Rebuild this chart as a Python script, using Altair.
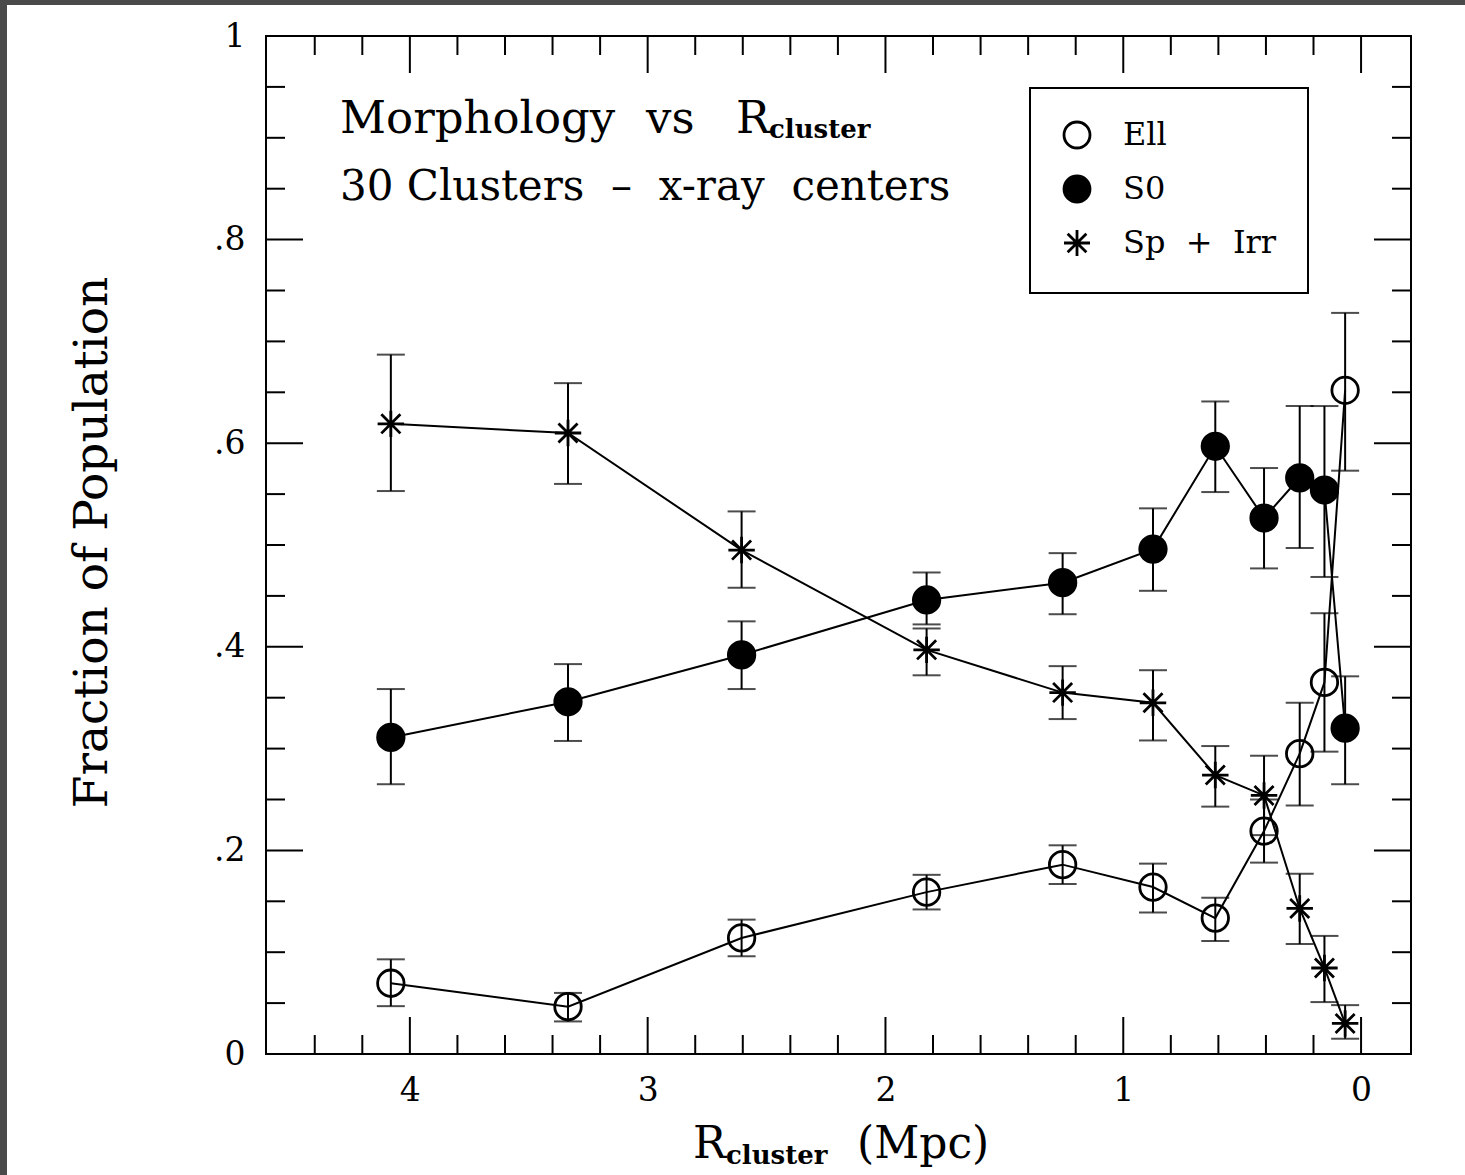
import altair as alt
import pandas as pd

SERIF = "DejaVu Serif"

# ---- data ----
R = [4.08, 3.335, 2.605, 1.827, 1.255, 0.875, 0.613, 0.408, 0.258, 0.154, 0.067]

ell = [0.0695, 0.0465, 0.114, 0.159, 0.186, 0.164, 0.1335, 0.219, 0.295, 0.365, 0.652]
ell_lo = [0.047, 0.032, 0.096, 0.142, 0.167, 0.139, 0.111, 0.188, 0.244, 0.297, 0.573]
ell_hi = [0.093, 0.060, 0.132, 0.176, 0.205, 0.187, 0.1535, 0.250, 0.345, 0.433, 0.728]

s0 = [0.311, 0.346, 0.392, 0.446, 0.463, 0.496, 0.597, 0.5265, 0.566, 0.554, 0.320]
s0_lo = [0.265, 0.3075, 0.3585, 0.422, 0.432, 0.455, 0.552, 0.477, 0.497, 0.4686, 0.265]
s0_hi = [0.3585, 0.383, 0.425, 0.473, 0.492, 0.536, 0.641, 0.5756, 0.6365, 0.6365, 0.371]

sp = [0.619, 0.610, 0.495, 0.397, 0.355, 0.345, 0.274, 0.254, 0.143, 0.0845, 0.030]
sp_lo = [0.553, 0.560, 0.458, 0.372, 0.329, 0.308, 0.243, 0.215, 0.108, 0.051, 0.015]
sp_hi = [0.687, 0.659, 0.533, 0.418, 0.381, 0.377, 0.3025, 0.293, 0.177, 0.116, 0.048]

series_names = ["Ell", "S0", "Sp + Irr"]

x_major = [0, 1, 2, 3, 4]
x_minor = [0.2, 0.4, 0.6, 0.8, 1.2, 1.4, 1.6, 1.8, 2.2, 2.4, 2.6, 2.8,
           3.2, 3.4, 3.6, 3.8, 4.2, 4.4]
y_major = [0, 0.2, 0.4, 0.6, 0.8, 1.0]
y_minor = [0.05, 0.1, 0.15, 0.25, 0.3, 0.35, 0.45, 0.5, 0.55,
           0.65, 0.7, 0.75, 0.85, 0.9, 0.95]

rows = []
for name, vals, los, his in [("Ell", ell, ell_lo, ell_hi),
                             ("S0", s0, s0_lo, s0_hi),
                             ("Sp + Irr", sp, sp_lo, sp_hi)]:
    for r, v, lo, hi in zip(R, vals, los, his):
        rows.append({"series": name, "r": r, "f": v, "lo": lo, "hi": hi})
df = pd.DataFrame(rows)

W, H = 1145, 1018
PAD_L, PAD_T, PAD_R, PAD_B = 266, 36, 54, 121
MAJ, MIN = 37, 19

xscale = alt.Scale(domain=[-0.21, 4.605], reverse=True, nice=False, zero=False)
yscale = alt.Scale(domain=[0, 1], nice=False, zero=False)

ASTERISK = "M-1,0L1,0M0,-1L0,1M-0.72,-0.72L0.72,0.72M-0.72,0.72L0.72,-0.72"

x_axis = alt.Axis(values=x_major, labelExpr="format(datum.value, 'd')",
                  ticks=False, tickSize=0, domain=False, grid=False,
                  labelFont=SERIF, labelFontSize=33, labelColor="black",
                  labelPadding=20, title=None)
y_axis = alt.Axis(values=y_major,
                  labelExpr="datum.value == 0 ? '0' : datum.value == 1 ? '1' : replace(format(datum.value, '.1f'), '0.', '.')",
                  ticks=False, tickSize=0, domain=False, grid=False,
                  labelFont=SERIF, labelFontSize=33, labelColor="black",
                  labelPadding=21, title="Fraction of Population",
                  titleFont=SERIF, titleFontSize=47, titleFontWeight="normal",
                  titleColor="black", titleAngle=270, titleX=-174, titleY=506,
                  titleAlign="center", titleBaseline="middle")

legend = alt.Legend(
    title=None, orient="none", legendX=764, legendY=52,
    padding=31, rowPadding=16, strokeColor="black",
    fillColor="white", labelFont=SERIF, labelFontSize=32,
    labelColor="black", labelOffset=30, symbolSize=676,
    symbolStrokeColor="black", symbolStrokeWidth=2.8,
    labelExpr="replace(datum.label, ' + ', '\u00a0\u00a0+\u00a0\u00a0')",
)

X = alt.X("r:Q", scale=xscale, axis=x_axis)

base = alt.Chart(df)

lines = base.mark_line(color="black", strokeWidth=2).encode(
    x=X,
    y=alt.Y("f:Q", scale=yscale, axis=y_axis),
    detail="series:N",
    order="r:Q",
)

err = base.mark_rule(color="black", strokeWidth=2).encode(
    x=X,
    y=alt.Y("lo:Q", scale=yscale, axis=y_axis),
    y2="hi:Q",
)
cap_lo = base.mark_tick(orient="horizontal", size=28, thickness=2, color="black").encode(
    x=X,
    y=alt.Y("lo:Q", scale=yscale, axis=y_axis),
)
cap_hi = base.mark_tick(orient="horizontal", size=28, thickness=2, color="black").encode(
    x=X,
    y=alt.Y("hi:Q", scale=yscale, axis=y_axis),
)

points = base.mark_point(size=700, strokeWidth=2.8,
                         opacity=1, fillOpacity=1, strokeOpacity=1).encode(
    x=X,
    y=alt.Y("f:Q", scale=yscale, axis=y_axis),
    shape=alt.Shape("series:N",
                    scale=alt.Scale(domain=series_names,
                                    range=["circle", "circle", ASTERISK]),
                    legend=legend),
    fill=alt.Fill("series:N",
                  scale=alt.Scale(domain=series_names,
                                  range=["transparent", "black", "black"]),
                  legend=legend),
    stroke=alt.Stroke("series:N",
                      scale=alt.Scale(domain=series_names,
                                      range=["black", "black", "black"]),
                      legend=legend),
)


def xticks(vals, length, top):
    d = pd.DataFrame({"r": vals})
    return alt.Chart(d).mark_rule(color="black", strokeWidth=2).encode(
        x=X,
        y=alt.value(0 if top else H - length),
        y2=alt.value(length if top else H),
    )


def yticks(vals, length, right):
    d = pd.DataFrame({"f": vals})
    return alt.Chart(d).mark_rule(color="black", strokeWidth=2).encode(
        y=alt.Y("f:Q", scale=yscale, axis=y_axis),
        x=alt.value(W - length if right else 0),
        x2=alt.value(W if right else length),
    )


ticks = [
    xticks(x_major, MAJ, False), xticks(x_minor, MIN, False),
    xticks(x_major, MAJ, True), xticks(x_minor, MIN, True),
    yticks(y_major, MAJ, False), yticks(y_minor, MIN, False),
    yticks(y_major, MAJ, True), yticks(y_minor, MIN, True),
]

one = pd.DataFrame({"a": [0]})


def label(text, x, y, size, weight="normal"):
    return alt.Chart(one).mark_text(
        align="left", baseline="alphabetic", font=SERIF, fontSize=size,
        fontWeight=weight, color="black"
    ).encode(x=alt.value(x), y=alt.value(y), text=alt.value(text))


texts = [
    label("Morphology", 74, 97, 45),
    label("vs", 380, 97, 45),
    label("R", 470, 97, 45),
    label("cluster", 503, 102, 26, "bold"),
    label("30 Clusters\u00a0\u00a0–\u00a0\u00a0x-ray\u00a0\u00a0centers", 74, 164, 42),
    label("R", 427, 1122, 44),
    label("cluster", 460, 1128, 26, "bold"),
    label("(Mpc)", 591, 1122, 44),
]

# dark scan border along the left and top edges of the page
border_left = alt.Chart(one).mark_rect(color="#4a4a4a").encode(
    x=alt.value(-PAD_L), x2=alt.value(-PAD_L + 7),
    y=alt.value(-PAD_T), y2=alt.value(H + PAD_B),
)
border_top = alt.Chart(one).mark_rect(color="#4a4a4a").encode(
    x=alt.value(-PAD_L), x2=alt.value(W + PAD_R),
    y=alt.value(-PAD_T), y2=alt.value(-PAD_T + 5),
)

chart = alt.layer(
    lines, err, cap_lo, cap_hi, points, *ticks, *texts, border_left, border_top
).properties(
    width=W, height=H,
    padding={"left": PAD_L, "top": PAD_T, "right": PAD_R, "bottom": PAD_B},
    autosize=alt.AutoSizeParams(type="none"),
    background="white",
).configure(
    font=SERIF
).configure_view(
    stroke="black", strokeWidth=2
).configure_legend(
    strokeWidth=2
)

chart.save("out.html", embed_options={"renderer": "svg", "actions": False})
